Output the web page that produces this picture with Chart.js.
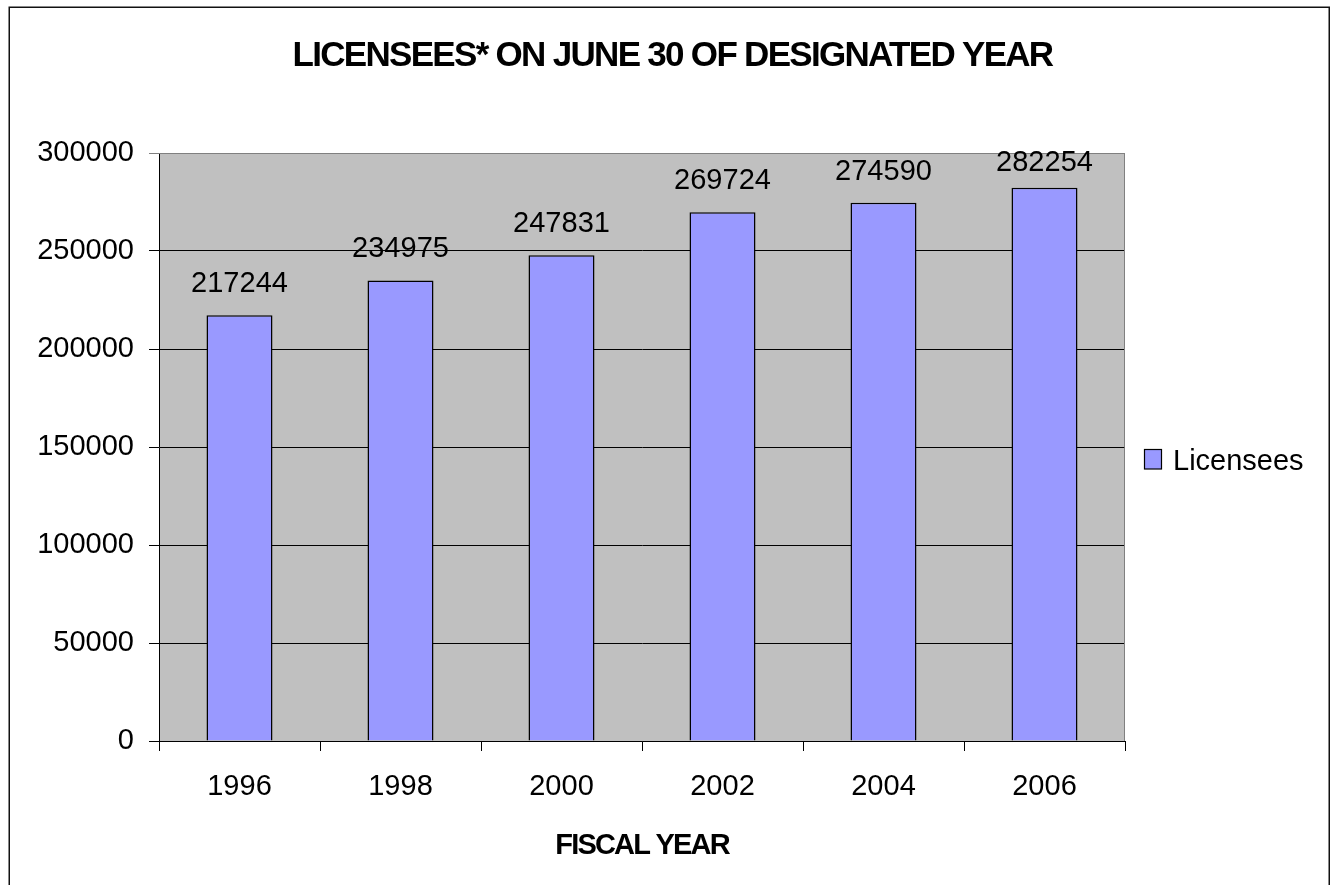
<!DOCTYPE html>
<html><head><meta charset="utf-8">
<script src="https://cdn.jsdelivr.net/npm/chart.js@4/dist/chart.umd.min.js"></script>
<style>html,body{margin:0;padding:0;background:#fff}#wrap{width:1337px;height:885px}</style>
</head><body><div id="wrap"><canvas id="c" width="1337" height="885"></canvas></div>
<script>
const categories = ['1996', '1998', '2000', '2002', '2004', '2006'];
const licensees = [217244, 234975, 247831, 269724, 274590, 282254];
const yTickValues = [0, 50000, 100000, 150000, 200000, 250000, 300000];
const seriesName = 'Licensees';
const chartTitle = 'LICENSEES* ON JUNE 30 OF DESIGNATED YEAR';
const xAxisTitle = 'FISCAL YEAR';

const FONT = '"Liberation Sans", Arial, sans-serif';

function withSpacing(obj, method, spacing, chart) {
  if (!obj || obj['__wrapped_' + method]) return;
  const orig = obj[method];
  obj[method] = function (...args) {
    const c = chart.ctx;
    c.save();
    c.letterSpacing = spacing;
    const r = orig.apply(this, args);
    c.restore();
    return r;
  };
  obj['__wrapped_' + method] = true;
}

const framePlugin = {
  id: 'frame',
  beforeDraw(chart) {
    withSpacing(chart.titleBlock, 'draw', '-1.7px', chart);
    withSpacing(chart.scales.x, 'drawTitle', '-1.8px', chart);
    const {ctx, chartArea: a} = chart;
    ctx.save();
    ctx.fillStyle = '#fff';
    ctx.fillRect(0, 0, chart.width, chart.height);
    ctx.fillStyle = '#C0C0C0';
    ctx.fillRect(a.left, a.top, a.right - a.left, a.bottom - a.top);
    ctx.strokeStyle = '#111';
    ctx.lineWidth = 1.5;
    ctx.strokeRect(9.25, 7.25, 1320, 900);
    ctx.restore();
  },
  beforeDatasetsDraw(chart) {
    const {ctx, chartArea: a} = chart;
    ctx.save();
    ctx.strokeStyle = '#808080';
    ctx.lineWidth = 1;
    ctx.beginPath();
    ctx.moveTo(a.left, a.top + 0.5);
    ctx.lineTo(a.right - 0.5, a.top + 0.5);
    ctx.lineTo(a.right - 0.5, a.bottom);
    ctx.stroke();
    ctx.restore();
  },
  afterDatasetsDraw(chart) {
    const {ctx, chartArea: a} = chart;
    const meta = chart.getDatasetMeta(0);
    ctx.save();
    ctx.fillStyle = '#000';
    ctx.font = '29px ' + FONT;
    ctx.textAlign = 'center';
    ctx.textBaseline = 'middle';
    meta.data.forEach((bar, i) => {
      // keep label inside the plot area, like the original
      const y = Math.max(bar.y - 31, a.top + 10);
      ctx.fillText(String(chart.data.datasets[0].data[i]), bar.x, y);
    });
    // legend
    const ds = chart.data.datasets[0];
    const lx = a.right + 19;
    ctx.fillStyle = ds.backgroundColor;
    ctx.fillRect(lx + 0.5, 449.5, 17, 19.5);
    ctx.strokeStyle = '#000';
    ctx.lineWidth = 1.2;
    ctx.strokeRect(lx + 0.5, 449.5, 17, 19.5);
    ctx.fillStyle = '#000';
    ctx.textAlign = 'left';
    ctx.textBaseline = 'alphabetic';
    ctx.fillText(ds.label, lx + 29, 470);
    ctx.restore();
  }
};

const chart = new Chart(document.getElementById('c'), {
  type: 'bar',
  data: {
    labels: categories,
    datasets: [{
      label: seriesName,
      data: licensees,
      backgroundColor: '#9999FF',
      borderColor: '#000',
      borderWidth: 1.5,
      barPercentage: 0.41,
      categoryPercentage: 1.0
    }]
  },
  options: {
    responsive: false,
    animation: false,
    devicePixelRatio: 1,
    layout: {padding: {left: 8, right: 0, top: 0, bottom: 0}},
    plugins: {
      legend: {display: false},
      tooltip: {enabled: false},
      title: {
        display: true,
        text: chartTitle,
        color: '#000',
        font: {family: FONT, size: 35, weight: 'bold'},
        padding: {top: 35.5, bottom: 75.5}
      }
    },
    scales: {
      x: {
        offset: true,
        grid: {offset: true, drawOnChartArea: false, drawTicks: true, tickLength: 10, color: '#000', lineWidth: 1},
        border: {display: true, color: '#000', width: 1},
        ticks: {color: '#000', font: {family: FONT, size: 29}, padding: 19, maxRotation: 0, autoSkip: false},
        title: {display: true, text: xAxisTitle, color: '#000', font: {family: FONT, size: 29, weight: 'bold'}, padding: {top: 0, bottom: 21.5}},
        afterFit(scale) { scale.height = 144; }
      },
      y: {
        min: yTickValues[0],
        max: yTickValues[yTickValues.length - 1],
        afterBuildTicks(scale) { scale.ticks = yTickValues.map(v => ({value: v})); },
        grid: {drawTicks: true, tickLength: 10, color: (c) => c.tick && c.tick.value === yTickValues[yTickValues.length - 1] ? '#808080' : '#000', lineWidth: 1},
        border: {display: true, color: '#000', width: 1},
        ticks: {color: '#000', font: {family: FONT, size: 29}, padding: 15, callback: (v) => String(v)},
        afterFit(scale) { scale.width = 151; }
      },
      legendSpace: {
        type: 'linear',
        position: 'right',
        display: true,
        grid: {display: false, drawTicks: false},
        border: {display: false},
        ticks: {display: false},
        afterFit(scale) { scale.width = 212; }
      }
    }
  },
  plugins: [framePlugin]
});
chart.draw();
</script></body></html>
